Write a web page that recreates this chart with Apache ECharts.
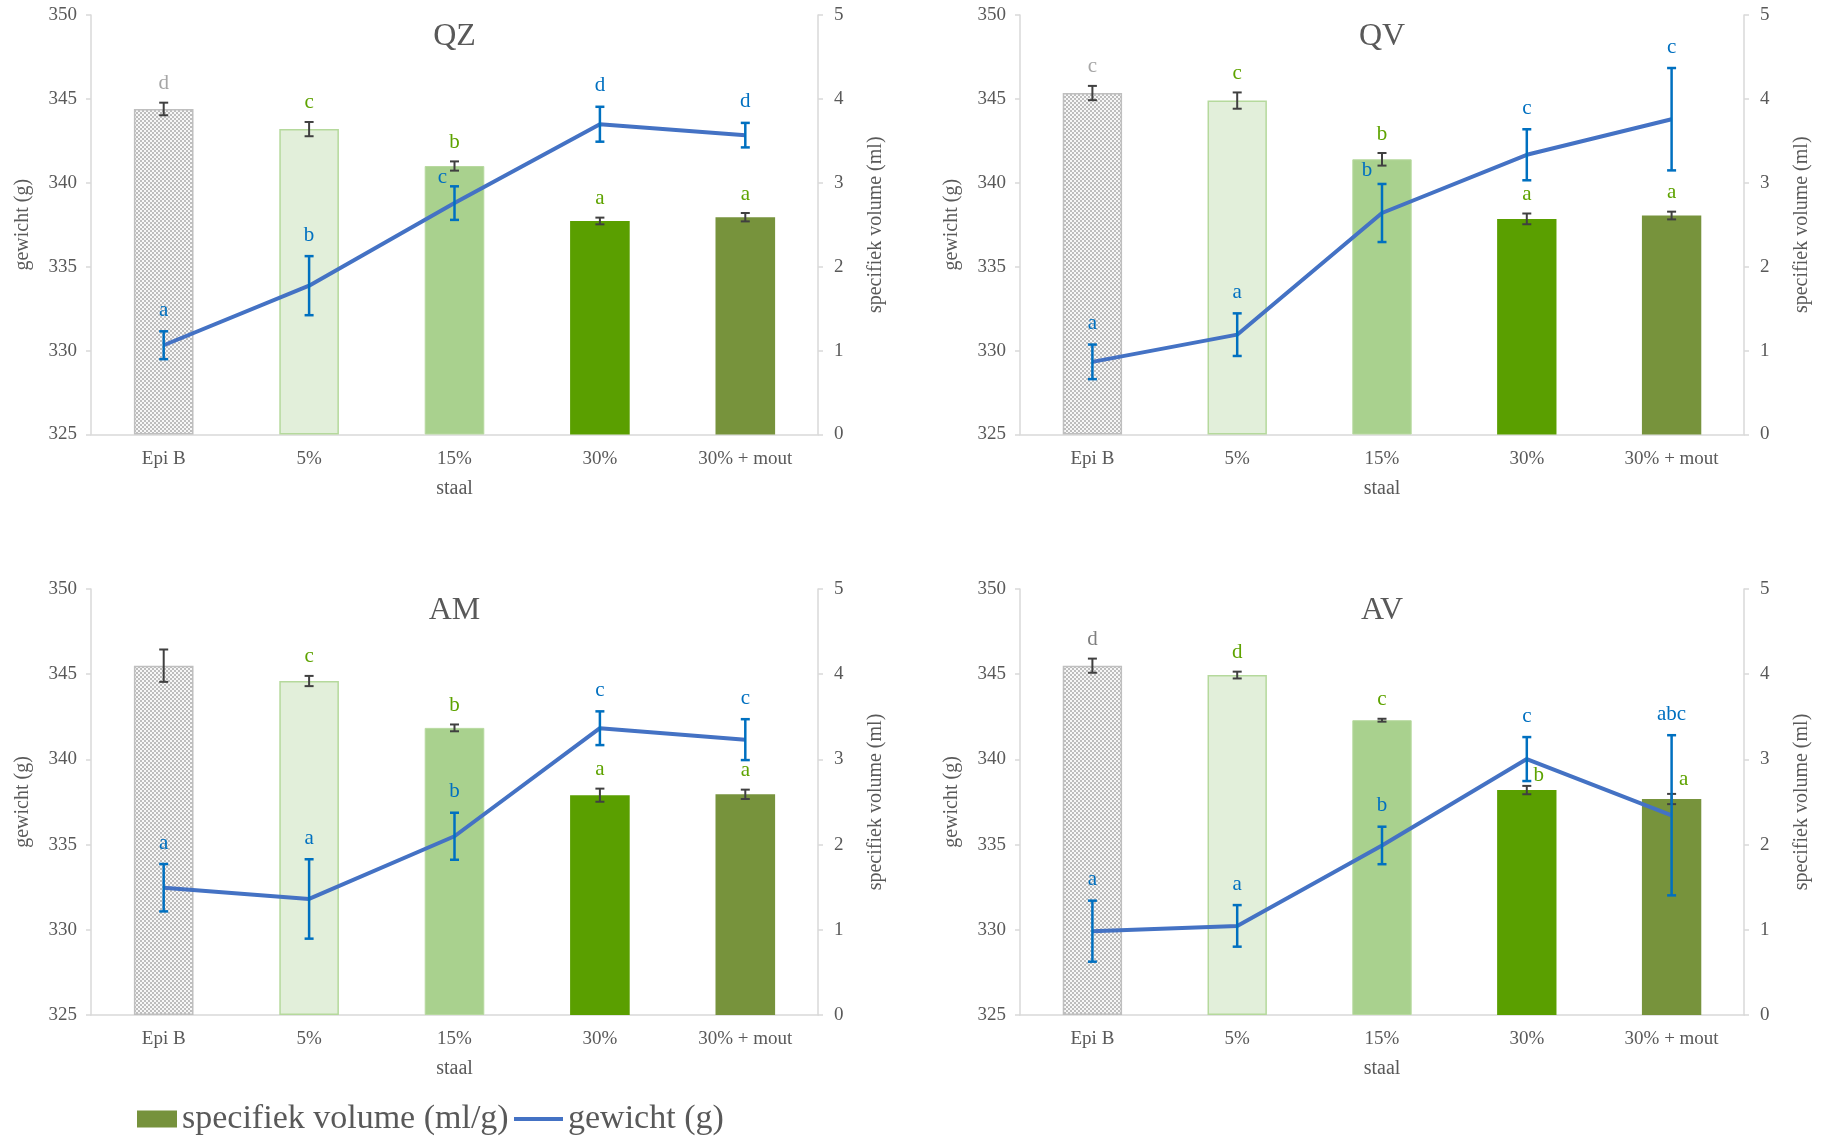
<!DOCTYPE html>
<html>
<head>
<meta charset="utf-8">
<script src="https://cdn.jsdelivr.net/npm/echarts@6/dist/echarts.min.js"></script>
<style>html,body{margin:0;padding:0;background:#fff}#c{width:1825px;height:1138px}</style>
</head>
<body>
<div id="c"></div>
<script>
// ---------- DATA ----------
const categories = ['Epi B', '5%', '15%', '30%', '30% + mout'];
const panelTitles = ['QZ', 'QV', 'AM', 'AV'];
const seriesNames = ['specifiek volume (ml/g)', 'gewicht (g)'];
const axisNames = { x: 'staal', left: 'gewicht (g)', right: 'specifiek volume (ml)' };

// specifiek volume (bars, right axis 0-5)
const qzVolume = [3.88, 3.64, 3.20, 2.545, 2.59];
const qzVolumeErr = [0.075, 0.085, 0.055, 0.04, 0.05];
const qzVolumeLetters = ['d', 'c', 'b', 'a', 'a'];
// gewicht (line, left axis 325-350)
const qzWeight = [330.32, 333.87, 338.79, 343.49, 342.84];
const qzWeightErr = [0.83, 1.76, 1.0, 1.04, 0.73];
const qzWeightLetters = ['a', 'b', 'c', 'd', 'd'];

const qvVolume = [4.07, 3.98, 3.28, 2.57, 2.61];
const qvVolumeErr = [0.085, 0.097, 0.075, 0.064, 0.046];
const qvVolumeLetters = ['c', 'c', 'b', 'a', 'a'];
const qvWeight = [329.33, 330.95, 338.2, 341.67, 343.79];
const qvWeightErr = [1.03, 1.27, 1.73, 1.52, 3.05];
const qvWeightLetters = ['a', 'a', 'b', 'c', 'c'];

const amVolume = [4.10, 3.92, 3.37, 2.58, 2.59];
const amVolumeErr = [0.19, 0.06, 0.04, 0.077, 0.055];
const amVolumeLetters = ['', 'c', 'b', 'a', 'a'];
const amWeight = [332.47, 331.81, 335.49, 341.83, 341.16];
const amWeightErr = [1.39, 2.33, 1.38, 0.99, 1.2];
const amWeightLetters = ['a', 'a', 'b', 'c', 'c'];

const avVolume = [4.10, 3.99, 3.46, 2.64, 2.535];
const avVolumeErr = [0.083, 0.04, 0.017, 0.049, 0.06];
const avVolumeLetters = ['d', 'd', 'c', 'b', 'a'];
const avWeight = [329.92, 330.23, 334.95, 340.02, 336.72];
const avWeightErr = [1.79, 1.22, 1.1, 1.29, 4.7];
const avWeightLetters = ['a', 'a', 'b', 'c', 'abc'];

const weightAxis = { min: 325, max: 350, interval: 5 };
const volumeAxis = { min: 0, max: 5, interval: 1 };

// ---------- STYLE / LAYOUT ----------
const FONT = '"Liberation Serif", "Times New Roman", serif';
const TXT = '#595959';
const grids = [
  { left: 91, top: 15, width: 727, height: 419.5 },
  { left: 1020, top: 15, width: 724, height: 419.5 },
  { left: 91, top: 589, width: 727, height: 426 },
  { left: 1020, top: 589, width: 724, height: 426 }
];
const epiLetterColors = ['#a6a6a6', '#a6a6a6', '#a6a6a6', '#7f7f7f'];
const greenLetter = '#5ea300';
const blueLetter = '#0070c0';
// per-letter nudges [dx, gap] (layout only)
const nudges = [
  { weight: { 2: [-12, 9] } },
  { weight: { 2: [-15, 13] } },
  {},
  { volume: { 3: [12, 10.5], 4: [12, 14.5] } }
];

// checkered pattern for Epi B
function makePattern() {
  const c = document.createElement('canvas');
  c.width = 4; c.height = 4;
  const g = c.getContext('2d');
  g.fillStyle = '#f7f7f7'; g.fillRect(0, 0, 4, 4);
  g.fillStyle = '#bdbdbd';
  g.fillRect(0, 0, 2, 2); g.fillRect(2, 2, 2, 2);
  return { image: c, repeat: 'repeat' };
}
const pattern = makePattern();
const barStyles = [
  { color: pattern, borderColor: '#bfbfbf', borderWidth: 1.5 },
  { color: '#e2efda', borderColor: '#b5d99c', borderWidth: 1.5 },
  { color: '#a9d18e', borderColor: '#b7d99f', borderWidth: 1 },
  { color: '#5a9f00' },
  { color: '#77933c' }
];

const panels = [
  { v: qzVolume, ve: qzVolumeErr, vl: qzVolumeLetters, w: qzWeight, we: qzWeightErr, wl: qzWeightLetters },
  { v: qvVolume, ve: qvVolumeErr, vl: qvVolumeLetters, w: qvWeight, we: qvWeightErr, wl: qvWeightLetters },
  { v: amVolume, ve: amVolumeErr, vl: amVolumeLetters, w: amWeight, we: amWeightErr, wl: amWeightLetters },
  { v: avVolume, ve: avVolumeErr, vl: avVolumeLetters, w: avWeight, we: avWeightErr, wl: avWeightLetters }
];

function errRender(letters, lineColor, lineW, letterColors, gap, nudge) {
  return function (params, api) {
    const i = params.dataIndex;
    const x = api.value(0);
    const pLo = api.coord([x, api.value(1)]);
    const pHi = api.coord([x, api.value(2)]);
    const hw = 4.5;
    const st = { stroke: lineColor, lineWidth: lineW };
    const children = [
      { type: 'line', shape: { x1: pLo[0], y1: pLo[1], x2: pHi[0], y2: pHi[1] }, style: st },
      { type: 'line', shape: { x1: pLo[0] - hw, y1: pLo[1], x2: pLo[0] + hw, y2: pLo[1] }, style: st },
      { type: 'line', shape: { x1: pHi[0] - hw, y1: pHi[1], x2: pHi[0] + hw, y2: pHi[1] }, style: st }
    ];
    if (letters[i]) {
      const n = (nudge && nudge[i]) || [0, gap];
      children.push({
        type: 'text',
        style: {
          text: letters[i], x: pHi[0] + n[0], y: pHi[1] - n[1],
          align: 'center', verticalAlign: 'middle',
          fill: letterColors[i], fontSize: 21, fontFamily: FONT
        }
      });
    }
    return { type: 'group', children };
  };
}

const xAxis = [], yAxis = [], series = [], graphic = [];
panels.forEach((p, k) => {
  const g = grids[k];
  xAxis.push({
    type: 'category', gridIndex: k, data: categories,
    name: axisNames.x, nameLocation: 'middle', nameGap: 44,
    nameTextStyle: { color: TXT, fontSize: 20, fontFamily: FONT },
    axisLine: { lineStyle: { color: '#d9d9d9', width: 1.5 } },
    axisTick: { show: false },
    axisLabel: { color: TXT, fontSize: 19, fontFamily: FONT, margin: 15 }
  });
  yAxis.push({
    type: 'value', gridIndex: k, position: 'left',
    min: weightAxis.min, max: weightAxis.max, interval: weightAxis.interval,
    name: axisNames.left, nameLocation: 'middle', nameRotate: 90, nameGap: 58,
    nameTextStyle: { color: TXT, fontSize: 20, fontFamily: FONT },
    axisLine: { show: true, lineStyle: { color: '#d9d9d9', width: 1.5 } },
    axisTick: { show: true, length: 5, lineStyle: { color: '#d9d9d9', width: 1.5 } },
    axisLabel: { color: TXT, fontSize: 19, fontFamily: FONT, margin: 14 },
    splitLine: { show: false }
  });
  yAxis.push({
    type: 'value', gridIndex: k, position: 'right',
    min: volumeAxis.min, max: volumeAxis.max, interval: volumeAxis.interval,
    name: axisNames.right, nameLocation: 'middle', nameRotate: 90, nameGap: 48,
    nameTextStyle: { color: TXT, fontSize: 20, fontFamily: FONT },
    axisLine: { show: true, lineStyle: { color: '#d9d9d9', width: 1.5 } },
    axisTick: { show: true, length: 5, lineStyle: { color: '#d9d9d9', width: 1.5 } },
    axisLabel: { color: TXT, fontSize: 19, fontFamily: FONT, margin: 16 },
    splitLine: { show: false }
  });
  const yl = 2 * k, yr = 2 * k + 1;
  series.push({
    name: seriesNames[0], type: 'bar', xAxisIndex: k, yAxisIndex: yr,
    barWidth: '41%', z: 2,
    itemStyle: { color: '#76923c' },
    data: p.v.map((v, i) => ({ value: v, itemStyle: barStyles[i] }))
  });
  series.push({
    type: 'custom', xAxisIndex: k, yAxisIndex: yr, z: 4, silent: true,
    renderItem: errRender(p.vl, '#404040', 2,
      p.vl.map((_, i) => i === 0 ? epiLetterColors[k] : greenLetter), 19, nudges[k].volume),
    data: p.v.map((v, i) => [i, v - p.ve[i], v + p.ve[i]])
  });
  series.push({
    name: seriesNames[1], type: 'line', xAxisIndex: k, yAxisIndex: yl,
    symbol: 'none', z: 5,
    lineStyle: { color: '#4472c4', width: 4 }, itemStyle: { color: '#4472c4' },
    data: p.w
  });
  series.push({
    type: 'custom', xAxisIndex: k, yAxisIndex: yl, z: 6, silent: true,
    renderItem: errRender(p.wl, '#0070c0', 2.5, p.wl.map(() => blueLetter), 21, nudges[k].weight),
    data: p.w.map((v, i) => [i, v - p.we[i], v + p.we[i]])
  });
  graphic.push({
    type: 'text', x: g.left + g.width / 2, y: g.top + 22,
    style: { text: panelTitles[k], align: 'center', verticalAlign: 'middle', fill: TXT, fontSize: 32, fontFamily: FONT }
  });
});

const legendText = { color: TXT, fontSize: 34, fontFamily: FONT };
const chart = echarts.init(document.getElementById('c'), null, { renderer: 'canvas' });
chart.setOption({
  animation: false,
  backgroundColor: '#fff',
  grid: grids.map(g => Object.assign({ containLabel: false }, g)),
  xAxis, yAxis, series, graphic,
  legend: [
    {
      data: [{ name: seriesNames[0], icon: 'rect' }],
      left: 132, top: 1097, itemWidth: 40, itemHeight: 17,
      textStyle: legendText, selectedMode: false
    },
    {
      data: [{ name: seriesNames[1], icon: 'path://M0,0H49V4H0Z' }],
      left: 509, top: 1097, itemWidth: 49, itemHeight: 17,
      textStyle: legendText, selectedMode: false
    }
  ]
});
</script>
</body>
</html>
